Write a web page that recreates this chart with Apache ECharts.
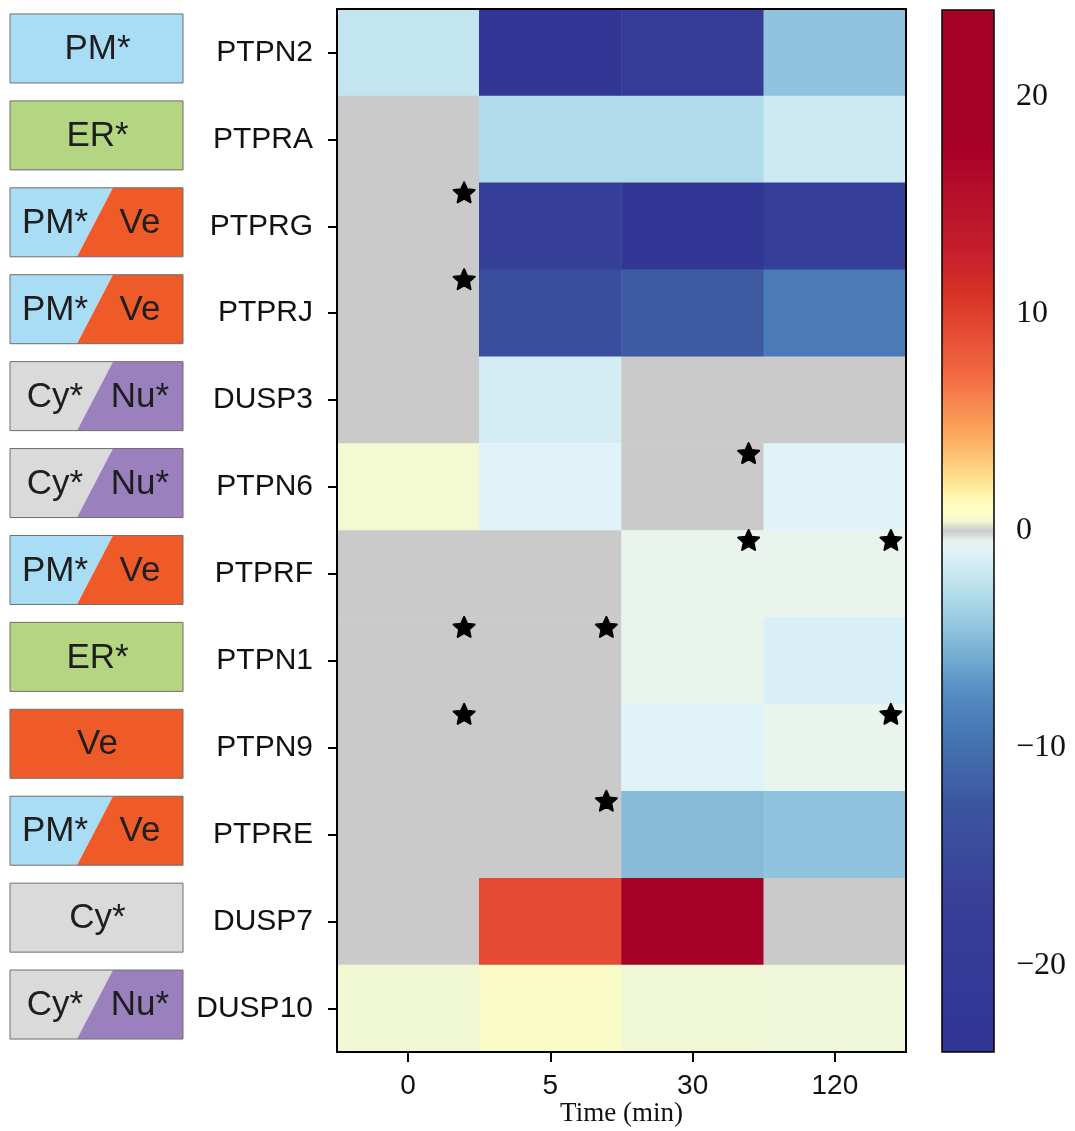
<!DOCTYPE html>
<html>
<head>
<meta charset="utf-8">
<script src="https://cdn.jsdelivr.net/npm/echarts@6.0.0/dist/echarts.min.js"></script>
<style>
  html, body { margin: 0; padding: 0; background: #ffffff; }
  #chart { width: 1075px; height: 1131px; }
</style>
</head>
<body>
<div id="chart"></div>
<script>
// Time points (columns) and phosphatases (rows, top to bottom)
const times = ['0', '5', '30', '120'];
const genes = ['PTPN2', 'PTPRA', 'PTPRG', 'PTPRJ', 'DUSP3', 'PTPN6',
               'PTPRF', 'PTPN1', 'PTPN9', 'PTPRE', 'DUSP7', 'DUSP10'];

// Change per time point, one value per gene (0 = no change, drawn grey)
const t0   = [-2.2,  0,    0,     0,    0,    0.45,  0,    0,    0,    0,    0,   0.4];
const t5   = [-23,  -3.0, -17,   -14,  -1.5, -1.0,   0,    0,    0,    0,    9.2, 0.7];
const t30  = [-19,  -3.0, -23,   -12.1, 0,    0,    -0.3, -0.3, -1.0, -4.9, 22,  0.35];
const t120 = [-4.5, -1.8, -17.5, -9.0,  0,   -1.0,  -0.3, -1.3, -0.3, -4.5, 0,   0.3];

// Subcellular localisation of each gene
const locations = [
  ['PM*'], ['ER*'], ['PM*', 'Ve'], ['PM*', 'Ve'], ['Cy*', 'Nu*'], ['Cy*', 'Nu*'],
  ['PM*', 'Ve'], ['ER*'], ['Ve'], ['PM*', 'Ve'], ['Cy*'], ['Cy*', 'Nu*']
];

// Significance markers: [time index, gene index]
const stars = [[0, 2], [0, 3], [2, 5], [2, 6], [3, 6], [0, 7], [1, 7], [0, 8], [3, 8], [1, 9]];

// Colour bar ticks
const colorbarTicks = [-20, -10, 0, 10, 20];
const colorMin = -24, colorMax = 24;

// Compartment fill colours
const compColors = { PM: '#a9ddf6', ER: '#b4d682', Ve: '#ef5a29', Cy: '#dadada', Nu: '#9a81bd' };

// Diverging palette (blue - white/yellow - red) with a grey band at zero
const paletteAnchors = [
  [-24, '#313695'], [-20, '#333a96'], [-17, '#374098'], [-12.6, '#3d55a0'], [-9.5, '#4575b4'],
  [-7.2, '#5a90c4'], [-5.8, '#74add1'], [-3.2, '#abd9e9'], [-1.0, '#e0f3f8'], [-0.3, '#e8f4ec'],
  [0.3, '#eef7da'], [0.6, '#f8fbc8'], [1.2, '#ffffbf'], [2.4, '#fee090'], [4.2, '#fdae61'],
  [7, '#f46d43'], [11, '#d73027'], [13, '#c41e2c'], [18, '#a50026'], [24, '#a50026']
];
const zeroGrey = '#cacaca';

function hexToRgb(h) {
  return [parseInt(h.slice(1, 3), 16), parseInt(h.slice(3, 5), 16), parseInt(h.slice(5, 7), 16)];
}
function paletteAt(v) {
  if (Math.abs(v) < 0.25) return zeroGrey;
  for (let k = 0; k < paletteAnchors.length - 1; k++) {
    const [v0, c0] = paletteAnchors[k], [v1, c1] = paletteAnchors[k + 1];
    if (v >= v0 && v <= v1) {
      const f = (v - v0) / (v1 - v0);
      const a = hexToRgb(c0), b = hexToRgb(c1);
      const c = a.map((x, i) => Math.round(x + (b[i] - x) * f));
      return 'rgb(' + c.join(',') + ')';
    }
  }
  return v < 0 ? paletteAnchors[0][1] : paletteAnchors[paletteAnchors.length - 1][1];
}
const paletteSteps = [];
for (let i = 0; i <= 480; i++) paletteSteps.push(paletteAt((i - 240) / 10));

// Heatmap cells
const columns = [t0, t5, t30, t120];
const cells = [];
columns.forEach((col, ti) => col.forEach((v, gi) => cells.push([ti, gi, v])));

// Five-pointed star marker
function starPath(inner) {
  let d = '';
  for (let k = 0; k < 10; k++) {
    const r = k % 2 ? inner : 1;
    const a = -Math.PI / 2 + k * Math.PI / 5;
    d += (k ? 'L' : 'M') + (r * Math.cos(a)).toFixed(4) + ',' + (r * Math.sin(a)).toFixed(4);
  }
  return 'path://' + d + 'Z';
}

const sans = '"Liberation Sans", Arial, Helvetica, sans-serif';
const serif = '"Liberation Serif", "Times New Roman", serif';

const chart = echarts.init(document.getElementById('chart'), null, { renderer: 'canvas' });

chart.setOption({
  backgroundColor: '#ffffff',
  animation: false,
  grid: [
    { left: 337, top: 9, width: 569, height: 1043, show: true, z: 10, outerBoundsMode: 'none',
      containLabel: false, borderColor: '#000', borderWidth: 2, backgroundColor: 'transparent' },
    { left: 942, top: 10, width: 52, height: 1042, show: true, z: 10, outerBoundsMode: 'none',
      containLabel: false, borderColor: '#000', borderWidth: 1.5, backgroundColor: 'transparent' }
  ],
  xAxis: [
    {
      type: 'category', gridIndex: 0, data: times,
      axisLine: { show: false },
      axisTick: { show: true, alignWithLabel: true, length: 10, lineStyle: { color: '#000', width: 2 } },
      axisLabel: { fontFamily: sans, fontSize: 28, color: '#111', margin: 20 },
      name: 'Time (min)', nameLocation: 'middle', nameGap: 48, nameMoveOverlap: false,
      nameTextStyle: { fontFamily: serif, fontSize: 27, color: '#111' },
      splitLine: { show: false }
    },
    { type: 'value', gridIndex: 1, min: 0, max: 1, show: false }
  ],
  yAxis: [
    {
      type: 'category', gridIndex: 0, data: genes, inverse: true,
      axisLine: { show: false },
      axisTick: { show: true, alignWithLabel: true, length: 9, lineStyle: { color: '#000', width: 2 } },
      axisLabel: { fontFamily: sans, fontSize: 30, color: '#111', margin: 24 },
      splitLine: { show: false }
    },
    {
      type: 'value', gridIndex: 1, min: colorMin, max: colorMax, position: 'right',
      axisLine: { show: false },
      splitLine: { show: false },
      axisTick: { show: true, customValues: colorbarTicks, length: 11, lineStyle: { color: '#000', width: 2 } },
      axisLabel: {
        customValues: colorbarTicks, fontFamily: serif, fontSize: 32, color: '#111', margin: 22,
        formatter: v => (v < 0 ? '\u2212' : '') + Math.abs(v)
      }
    }
  ],
  visualMap: {
    type: 'continuous', seriesIndex: 0, dimension: 2,
    min: colorMin, max: colorMax,
    inRange: { color: paletteSteps },
    calculable: false, hoverLink: false,
    orient: 'vertical', left: 942, top: 10, padding: 0,
    itemWidth: 52, itemHeight: 1042,
    text: null, showLabel: false
  },
  series: [
    {
      type: 'heatmap', xAxisIndex: 0, yAxisIndex: 0, data: cells,
      itemStyle: { borderWidth: 0 },
      emphasis: { disabled: true }, silent: true, z: 2
    },
    {
      type: 'scatter', xAxisIndex: 0, yAxisIndex: 0, data: stars,
      symbol: starPath(0.47), symbolKeepAspect: true, symbolSize: 21,
      symbolOffset: [56, -34],
      itemStyle: { color: '#000', opacity: 1, borderColor: '#000', borderWidth: 2, borderJoin: 'round' },
      silent: true, z: 5
    },
    {
      type: 'custom', xAxisIndex: 0, yAxisIndex: 0, clip: false, silent: true, z: 5,
      data: locations.map((loc, i) => [0, i]),
      renderItem: function (params, api) {
        const yc = api.coord([0, api.value(1)])[1] - 4;
        const top = yc - 34.5, bot = yc + 34.5, L = 10, R = 183;
        const loc = locations[params.dataIndex];
        const key = s => s.replace('*', '');
        const font = '35px ' + sans;
        const children = [];
        if (loc.length === 1) {
          children.push({ type: 'rect', shape: { x: L, y: top, width: R - L, height: bot - top },
            style: { fill: compColors[key(loc[0])], stroke: '#6e6e6e', lineWidth: 1 } });
          children.push({ type: 'text', style: { text: loc[0], x: (L + R) / 2 + 1, y: yc + 1,
            align: 'center', verticalAlign: 'middle', font: font, fill: '#1e1e1e' } });
        } else {
          const xt = 113, xb = 77;
          children.push({ type: 'polygon', shape: { points: [[L, top], [xt, top], [xb, bot], [L, bot]] },
            style: { fill: compColors[key(loc[0])] } });
          children.push({ type: 'polygon', shape: { points: [[xt, top], [R, top], [R, bot], [xb, bot]] },
            style: { fill: compColors[key(loc[1])] } });
          children.push({ type: 'rect', shape: { x: L, y: top, width: R - L, height: bot - top },
            style: { fill: 'none', stroke: '#6e6e6e', lineWidth: 1 } });
          children.push({ type: 'text', style: { text: loc[0], x: 55, y: yc + 1,
            align: 'center', verticalAlign: 'middle', font: font, fill: '#1e1e1e' } });
          children.push({ type: 'text', style: { text: loc[1], x: 140, y: yc + 1,
            align: 'center', verticalAlign: 'middle', font: font, fill: '#1e1e1e' } });
        }
        return { type: 'group', children: children };
      }
    }
  ]
});
</script>
</body>
</html>
